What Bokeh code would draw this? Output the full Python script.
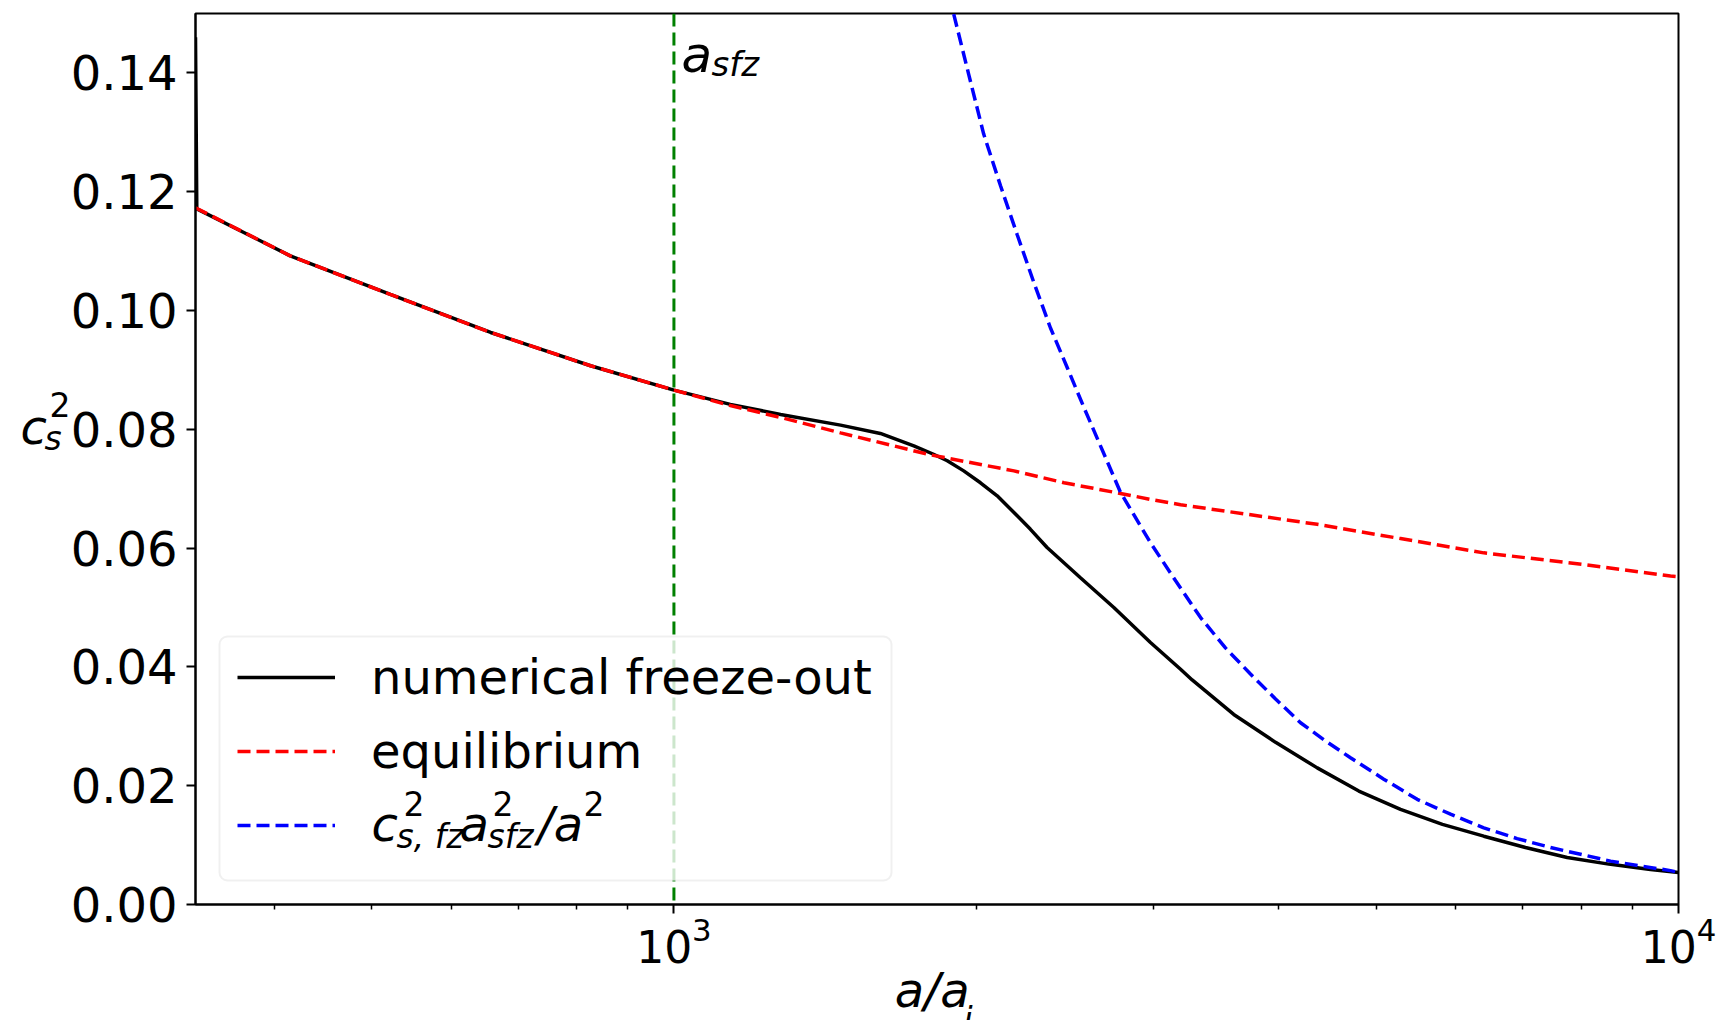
import math
from bokeh.plotting import figure
from bokeh.models import (Range1d, FixedTicker, NumeralTickFormatter, Span,
                          Legend, LegendItem, Label, BoxAnnotation)
from bokeh.embed import file_html
from bokeh.resources import INLINE

# numerical freeze-out solution c_s^2(a/a_i)
a_num = [334, 335, 415, 522, 657, 826, 1000, 1138, 1277, 1465, 1605, 1733,
         1813, 1871, 1943, 2019, 2098, 2180, 2263, 2352, 2539, 2741, 2981,
         3194, 3280, 3608, 3971, 4369, 4806, 5288, 5821, 6400, 7041, 7748,
         8523, 9378, 10000]
cs2_num = [0.146, 0.1171, 0.1092, 0.1027, 0.0963, 0.0907, 0.0866, 0.0842,
           0.0825, 0.0807, 0.0793, 0.0772, 0.0758, 0.0747, 0.0730, 0.0710,
           0.0688, 0.0660, 0.0632, 0.0601, 0.0550, 0.0500, 0.0441, 0.0396,
           0.0378, 0.0320, 0.0273, 0.0230, 0.0191, 0.0160, 0.0135, 0.0115,
           0.0096, 0.0079, 0.0068, 0.0059, 0.0054]

# equilibrium sound speed
a_eq = [334, 415, 522, 657, 826, 1000, 1138, 1277, 1465, 1800, 2180, 2445,
        2783, 2981, 3194, 4369, 5288, 6400, 8085, 9818, 10000]
cs2_eq = [0.1173, 0.1092, 0.1027, 0.0963, 0.0907, 0.0866, 0.0840, 0.0820,
          0.0794, 0.0757, 0.0730, 0.0710, 0.0692, 0.0682, 0.0673, 0.0640,
          0.0616, 0.0592, 0.0572, 0.0553, 0.0552]

# free-streaming redshift c_{s,fz}^2 a_sfz^2 / a^2
a_fz = [1899, 1965, 2034, 2114, 2196, 2282, 2370, 2463, 2559, 2783, 2981,
        3158, 3344, 3540, 3749, 3971, 4205, 4455, 4715, 5089, 5494, 5930,
        6400, 6908, 7458, 8558, 9818, 10000]
cs2_fz = [0.1499, 0.1398, 0.1297, 0.1210, 0.1128, 0.1047, 0.0971, 0.0904,
          0.0837, 0.0694, 0.0609, 0.0545, 0.0483, 0.0432, 0.0388, 0.0346,
          0.0306, 0.0275, 0.0247, 0.0211, 0.0177, 0.0152, 0.0129, 0.0111,
          0.0096, 0.0073, 0.0057, 0.0054]

a_sfz = 1000

x_lim = (334, 10000)
y_lim = (0.0, 0.15)
y_ticks = [0.0, 0.02, 0.04, 0.06, 0.08, 0.10, 0.12, 0.14]
x_major = [1000, 10000]
x_minor = [400, 500, 600, 700, 800, 900,
           2000, 3000, 4000, 5000, 6000, 7000, 8000, 9000]
legend_labels = ["numerical freeze-out", "equilibrium", " "]

W, H = 1720, 1020
FL, FR, FT, FB = 195, 1678, 13, 904
FONT = "DejaVu Sans"

p = figure(width=W, height=H, x_axis_type="log", title=None,
           x_range=Range1d(*x_lim), y_range=Range1d(*y_lim),
           output_backend="svg", toolbar_location=None,
           min_border_left=FL, min_border_right=W - FR,
           min_border_top=FT, min_border_bottom=H - FB)
p.grid.visible = False
p.outline_line_color = "black"
p.outline_line_width = 2
p.outline_line_alpha = 1.0
p.background_fill_color = "white"
p.border_fill_color = "white"

for ax in (p.xaxis[0], p.yaxis[0]):
    ax.axis_line_width = 2
    ax.axis_line_color = "black"
    ax.major_tick_line_width = 2
    ax.major_tick_line_color = "black"
    ax.major_tick_in = 0
    ax.major_tick_out = 9
    ax.minor_tick_in = 0
    ax.minor_tick_out = 5
    ax.minor_tick_line_width = 1.5
    ax.minor_tick_line_color = "black"
    ax.major_label_text_font = FONT
    ax.major_label_text_color = "black"

p.yaxis.ticker = FixedTicker(ticks=y_ticks)
p.yaxis.formatter = NumeralTickFormatter(format="0.00")
p.yaxis.major_label_text_font_size = "48px"
p.yaxis.major_label_standoff = 9

p.xaxis.ticker = FixedTicker(ticks=x_major, minor_ticks=x_minor)
p.xaxis.major_label_text_font_size = "44px"
p.xaxis.major_label_standoff = 3
# x axis title; the thin space keeps room for the subscript drawn beside it
p.xaxis.axis_label = "a/a\u2009"
p.xaxis.axis_label_text_font = FONT
p.xaxis.axis_label_text_font_style = "italic"
p.xaxis.axis_label_text_font_size = "48px"
p.xaxis.axis_label_text_color = "black"
p.xaxis.axis_label_standoff = -4

r_num = p.line(a_num, cs2_num, line_color="black", line_width=3.5)
r_eq = p.line(a_eq, cs2_eq, line_color="#ff0000", line_width=3.5,
              line_dash="13 6")
r_fz = p.line(a_fz, cs2_fz, line_color="#0000ff", line_width=3.5,
              line_dash="13 6")

p.add_layout(Span(location=a_sfz, dimension="height", line_color="#008000",
                  line_width=3, line_dash="13 6"))

LIFT = 17  # baseline correction for text placed by pixel position
LX0, LX1 = math.log10(x_lim[0]), math.log10(x_lim[1])


def xd(X):
    return 10 ** (LX0 + (X - FL) * (LX1 - LX0) / (FR - FL))


def yd(Y):
    return y_lim[0] + (FB - Y) * (y_lim[1] - y_lim[0]) / (FB - FT)


# legend frame: translucent white box with rounded light-grey border
p.add_layout(BoxAnnotation(left=xd(219), right=xd(891), top=yd(636),
                           bottom=yd(880), fill_color="white", fill_alpha=0.8,
                           line_color="#cccccc", line_width=2,
                           border_radius=8))


def put(text, X, Y, size, italic=True, side="center"):
    """Place a text piece at canvas pixel X (right) / Y (down, baseline)."""
    lab = Label(x=xd(X), y=yd(Y - LIFT), x_units="data", y_units="data",
                text=text, text_font=FONT,
                text_font_style="italic" if italic else "normal",
                text_font_size=f"{size}px", text_color="black",
                text_align="left", text_baseline="alphabetic")
    p.add_layout(lab, side)


# legend entry: c_{s,fz}^2 a_{sfz}^2 / a^2
row3 = 823
put("c", 371, row3 + 17, 48)
put("2", 403, row3 - 3, 33, italic=False)
put("s, fz", 396, row3 + 30, 33)
put("a", 459, row3 + 17, 48)
put("2", 492, row3 - 3, 33, italic=False)
put("sfz", 487, row3 + 30, 33)
put("/a", 537, row3 + 17, 48)
put("2", 583, row3 - 3, 33, italic=False)

# annotation of the vertical marker
put("a", 681, 71, 50)
put("sfz", 711, 80, 34)

# y axis label c_s^2 (outside the frame, kept in the left border)
put("c", 20, 443, 48, side="left")
put("2", 49, 421, 33, italic=False, side="left")
put("s", 44, 455, 33, side="left")

# subscript of the x axis title
put("i", 963, 1036, 33, side="right")

legend = Legend(
    items=[LegendItem(label=legend_labels[0], renderers=[r_num]),
           LegendItem(label=legend_labels[1], renderers=[r_eq]),
           LegendItem(label=legend_labels[2], renderers=[r_fz])],
    location="bottom_left", margin=24, padding=18, spacing=0,
    glyph_width=98, glyph_height=74, label_height=74, label_standoff=36,
    label_text_font=FONT, label_text_font_size="48px",
    label_text_color="black",
    border_line_alpha=0, background_fill_alpha=0)
p.add_layout(legend)

open("out.html", "w").write(file_html(p, INLINE))
